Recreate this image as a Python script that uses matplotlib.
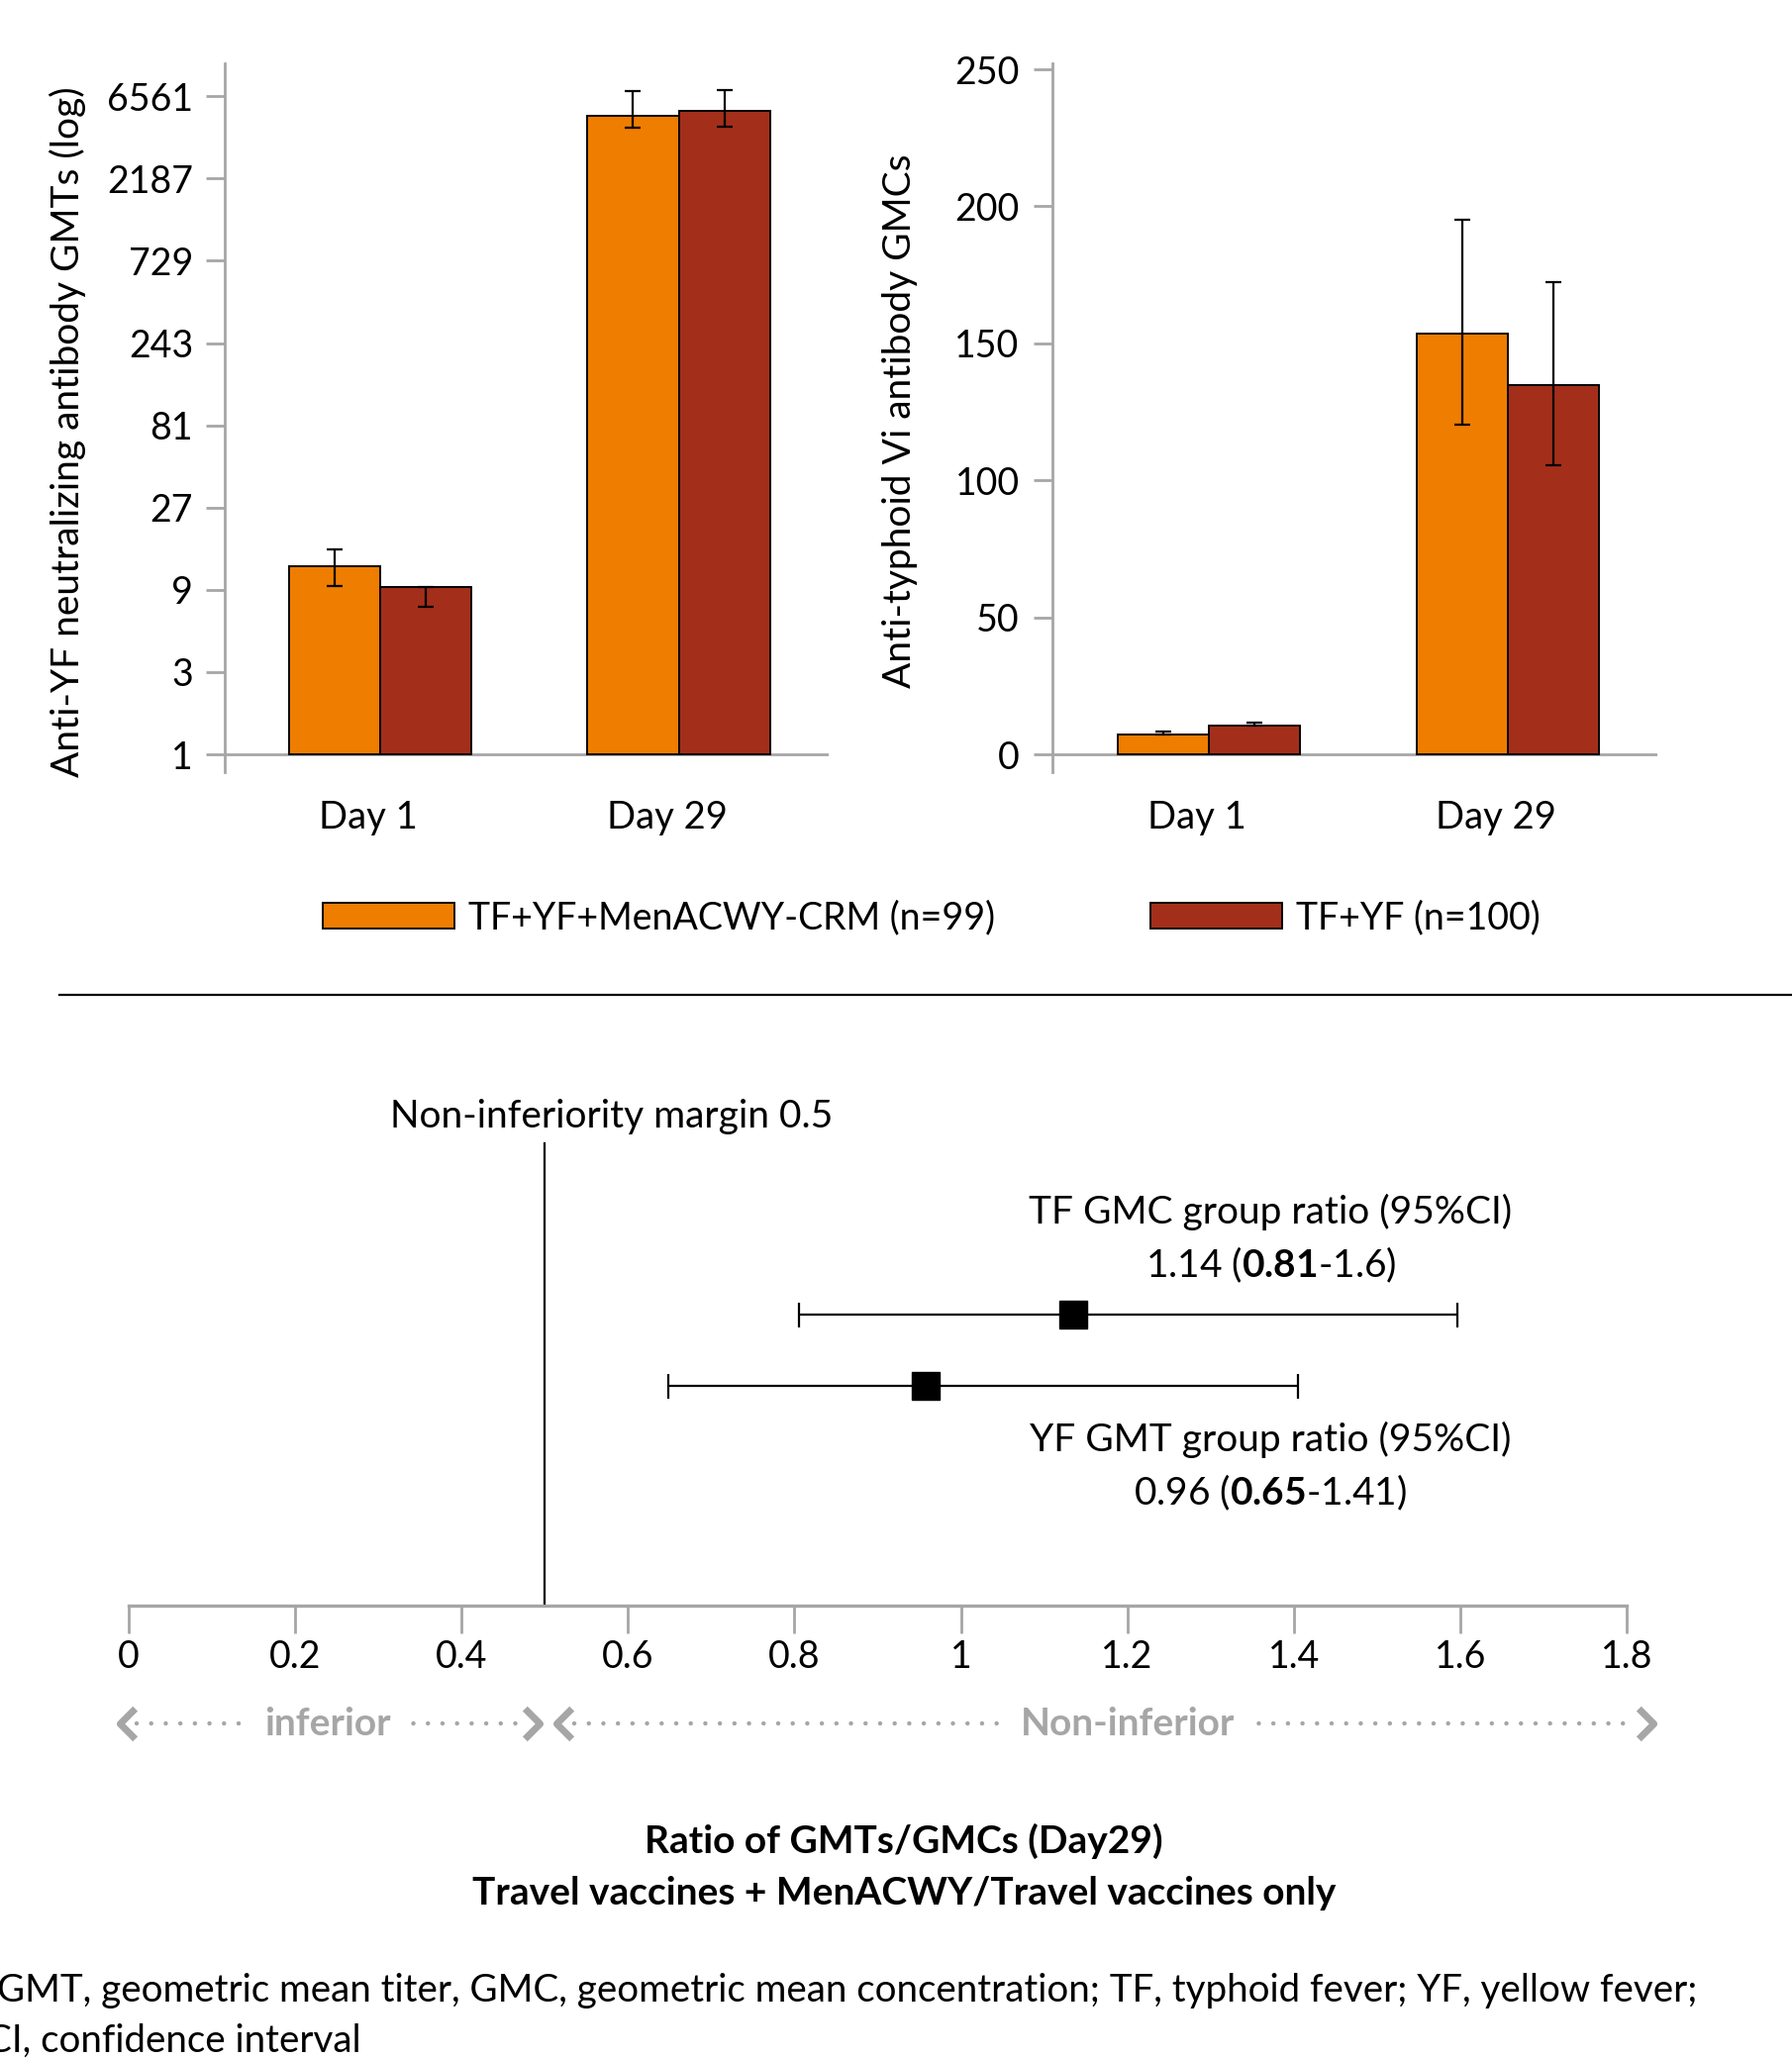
import matplotlib
matplotlib.use("Agg")
import matplotlib.pyplot as plt
from matplotlib.lines import Line2D
from matplotlib.path import Path

plt.rcParams['font.family'] = ['Lato', 'DejaVu Sans']
plt.rcParams['mathtext.fontset'] = 'custom'
plt.rcParams['mathtext.rm'] = 'Lato'
plt.rcParams['mathtext.bf'] = 'Lato:bold'

# data
days = ['Day 1', 'Day 29']
groups = ['TF+YF+MenACWY-CRM (n=99)', 'TF+YF (n=100)']
colors = ['#EF7D00', '#A32F1B']

yf_gmt = [[12.3, 5070], [9.36, 5420]]
yf_lo = [[9.5, 4290], [7.17, 4390]]
yf_hi = [[15.4, 7020], [9.4, 7170]]

tf_gmc = [[7.1, 153.5], [10.5, 134.9]]
tf_lo = [[7.1, 120.5], [10.5, 105.4]]
tf_hi = [[8.3, 195.2], [11.4, 172.4]]

yf_ticks = [1, 3, 9, 27, 81, 243, 729, 2187, 6561]
tf_ticks = [0, 50, 100, 150, 200, 250]

ratio_names = ['TF GMC group ratio (95%CI)', 'YF GMT group ratio (95%CI)']
ratio_text = [('1.14', '0.81', '1.6'), ('0.96', '0.65', '1.41')]
ratio_est = [1.135, 0.958]
ratio_lo = [0.805, 0.648]
ratio_hi = [1.597, 1.405]
ratio_ticks = [0, 0.2, 0.4, 0.6, 0.8, 1, 1.2, 1.4, 1.6, 1.8]
margin = 0.5

W, H = 1810, 2080
GRAY = '#A6A6A6'
FS = 28

fig = plt.figure(figsize=(W / 100, H / 100), dpi=100)


def box(l, t, r, b):
  return [l / W, 1 - b / H, (r - l) / W, (b - t) / H]


def bar_panel(ax, vals, lo, hi, base):
  width = 0.306
  handles = []
  for g in range(2):
    xs = [i + (g - 0.5) * width for i in range(len(days))]
    err = [[v - l for v, l in zip(vals[g], lo[g])],
           [h - v for v, h in zip(vals[g], hi[g])]]
    b = ax.bar(xs, [v - base for v in vals[g]], width, bottom=base,
               color=colors[g], edgecolor='black', linewidth=1.4, zorder=2)
    ax.errorbar(xs, vals[g], yerr=err, fmt='none', ecolor='black',
                elinewidth=1.6, capsize=5.6, capthick=1.6, zorder=3)
    handles.append(b)
  ax.axhline(base, color=GRAY, lw=2, zorder=1)
  ax.set_xticks([i - 0.04 for i in range(len(days))])
  ax.set_xticklabels(days, fontsize=27.5)
  ax.tick_params(axis='x', length=0, pad=20)
  ax.tick_params(axis='y', colors=GRAY, labelcolor='black', length=14,
                 width=2, labelsize=27)
  for s in ['top', 'right', 'bottom']:
    ax.spines[s].set_visible(False)
  ax.spines['left'].set_color(GRAY)
  ax.spines['left'].set_linewidth(2)
  return handles


# left panel: YF GMTs (log3)
ax1 = fig.add_axes(box(227, 64, 837, 780))
handles = bar_panel(ax1, yf_gmt, yf_lo, yf_hi, 1)
ax1.set_yscale('log', base=3)
ax1.set_ylim(3 ** -0.216, 3 ** 8.4)
ax1.set_yticks(yf_ticks)
ax1.set_yticklabels([str(t) for t in yf_ticks])
ax1.minorticks_off()
ax1.tick_params(axis='y', pad=9)
ax1.set_xlim(-0.521, 1.502)
ax1.set_ylabel('Anti-YF neutralizing antibody GMTs (log)', fontsize=FS)
ax1.yaxis.set_label_coords(-0.229, 0.48)

# right panel: TF GMCs
ax2 = fig.add_axes(box(1063, 64, 1674, 780))
bar_panel(ax2, tf_gmc, tf_lo, tf_hi, 0)
ax2.set_ylim(-6.5, 252.2)
ax2.set_yticks(tf_ticks)
ax2.tick_params(axis='y', pad=10)
ax2.set_xlim(-0.523, 1.5)
ax2.set_ylabel('Anti-typhoid Vi antibody GMCs', fontsize=FS)
ax2.yaxis.set_label_coords(-0.222, 0.496)

# legend
for h, lab, x in zip(handles, groups, [326, 1162]):
  fig.legend(handles=[h], labels=[lab], loc='center left',
             bbox_to_anchor=(x / W, 1 - 927 / H), frameon=False,
             fontsize=27, borderpad=0, borderaxespad=0,
             handlelength=3.55, handleheight=0.7, handletextpad=0.38)

# separator
fig.add_artist(Line2D([60 / W, 1.0], [1 - 1005 / H] * 2, color='black', lw=1.6))

# bottom: ratio plot
ax3 = fig.add_axes(box(130, 1090, 1643, 1622))
rows = [1, 0]
y0, y1 = -3.083, 4.306
ax3.set_xlim(0, 1.8)
ax3.set_ylim(y0, y1)
ax3.errorbar(ratio_est, rows,
             xerr=[[e - l for e, l in zip(ratio_est, ratio_lo)],
                   [h - e for e, h in zip(ratio_est, ratio_hi)]],
             fmt='s', color='black', ms=20, elinewidth=1.6,
             capsize=9, capthick=1.6, clip_on=False)
ax3.plot([margin, margin], [y0, 3.40], color='black', lw=1.6)
ax3.text(margin + 0.08, 3.78, 'Non-inferiority margin 0.5', fontsize=FS,
         ha='center', va='center')

txt_x = 1.372
for r, name, (e, l, h) in zip(rows, ratio_names, ratio_text):
  dy = 2.44 if r == 1 else -0.75
  ax3.text(txt_x, dy, name, fontsize=FS, ha='center', va='center')
  ax3.text(txt_x, dy - 0.74, r'%s ($\mathbf{%s}$-%s)' % (e, l, h),
           fontsize=FS, ha='center', va='center')

for s in ['top', 'right', 'left']:
  ax3.spines[s].set_visible(False)
ax3.spines['bottom'].set_color(GRAY)
ax3.spines['bottom'].set_linewidth(2.4)
ax3.set_yticks([])
ax3.set_xticks(ratio_ticks)
ax3.set_xticklabels(['%g' % t for t in ratio_ticks])
ax3.tick_params(axis='x', colors=GRAY, labelcolor='black', length=20,
                width=2, labelsize=27, pad=4.5)

# inferior / non-inferior arrows
ya = -4.74
chev_r = Path([(-0.6, 1), (0.4, 0), (-0.6, -1)])
chev_l = Path([(0.6, 1), (-0.4, 0), (0.6, -1)])
zones = [(-0.01, 0.492, 'inferior', 0.239), (0.515, 1.831, 'Non-inferior', 1.20)]
for a, b, lab, cx in zones:
  ax3.plot([a + 0.02, b - 0.02], [ya, ya], color=GRAY, lw=3.2,
           ls=(0, (0.01, 3.3)), dash_capstyle='round', clip_on=False)
  ax3.plot([a + 0.006], [ya], marker=chev_l, ms=22, mfc='none', mec=GRAY,
           mew=5, clip_on=False)
  ax3.plot([b - 0.006], [ya], marker=chev_r, ms=22, mfc='none', mec=GRAY,
           mew=5, clip_on=False)
  ax3.text(cx, ya, lab, fontsize=FS, fontweight='bold', color=GRAY,
           ha='center', va='center', zorder=5,
           bbox=dict(facecolor='white', edgecolor='none', pad=10))

# titles and footnote
fig.text(913 / W, 1 - 1860 / H, 'Ratio of GMTs/GMCs (Day29)', fontsize=FS,
         fontweight='bold', ha='center', va='center')
fig.text(913 / W, 1 - 1913 / H, 'Travel vaccines + MenACWY/Travel vaccines only',
         fontsize=FS, fontweight='bold', ha='center', va='center')
fig.text(-3 / W, 1 - 2011 / H,
         'GMT, geometric mean titer, GMC, geometric mean concentration; TF, typhoid fever; YF, yellow fever;',
         fontsize=27.7, ha='left', va='center')
fig.text(-14 / W, 1 - 2062 / H, 'CI, confidence interval', fontsize=27.7,
         ha='left', va='center')

fig.savefig('out.png', dpi=100, facecolor='white')
